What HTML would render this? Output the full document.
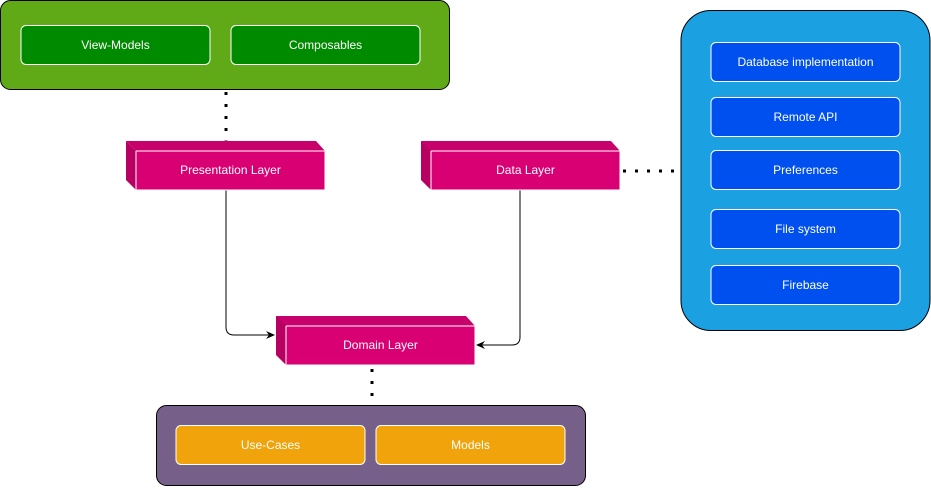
<!DOCTYPE html>
<html><head><style>
body{margin:0;width:931px;height:486px;background:#fff;font-family:"Liberation Sans",Arial,sans-serif;overflow:hidden}
</style></head><body>
<svg width="931" height="486" viewBox="0 0 931 486" xmlns="http://www.w3.org/2000/svg" font-family="Liberation Sans, Arial, sans-serif" font-size="12">
<defs><marker id="a" markerWidth="10" markerHeight="10" refX="8" refY="5" orient="auto" markerUnits="userSpaceOnUse"><path d="M0,1 L9,5 L0,9 L3,5 Z" fill="#000"/></marker></defs>
<!-- green -->
<rect x="0.5" y="0.5" width="449" height="89" rx="10" fill="#60a917" stroke="#000"/>
<rect x="21" y="25.5" width="189" height="39" rx="5" fill="#008a00" stroke="#fff"/>
<text x="115.5" y="49" fill="#fff" text-anchor="middle">View-Models</text>
<rect x="231" y="25.5" width="189" height="39" rx="5" fill="#008a00" stroke="#fff"/>
<text x="325.5" y="49" fill="#fff" text-anchor="middle">Composables</text>
<!-- blue -->
<rect x="681" y="10.5" width="249" height="320" rx="30" fill="#1ba1e2" stroke="#000"/>
<g fill="#0050ef" stroke="#fff">
<rect x="711" y="42.5" width="189" height="39" rx="5"/>
<rect x="711" y="97.5" width="189" height="39" rx="5"/>
<rect x="711" y="150.5" width="189" height="39" rx="5"/>
<rect x="711" y="209.5" width="189" height="39" rx="5"/>
<rect x="711" y="265.5" width="189" height="39" rx="5"/>
</g>
<g fill="#fff" text-anchor="middle">
<text x="805.5" y="66">Database implementation</text>
<text x="805.5" y="121">Remote API</text>
<text x="805.5" y="174">Preferences</text>
<text x="805.5" y="233">File system</text>
<text x="805.5" y="289">Firebase</text>
</g>
<!-- purple -->
<rect x="156.5" y="405.5" width="429" height="80" rx="10" fill="#76608a" stroke="#000"/>
<rect x="176" y="425.5" width="189" height="39" rx="5" fill="#f0a30a" stroke="#fff"/>
<text x="270.5" y="449" fill="#fff" text-anchor="middle">Use-Cases</text>
<rect x="376" y="425.5" width="189" height="39" rx="5" fill="#f0a30a" stroke="#fff"/>
<text x="470.5" y="449" fill="#fff" text-anchor="middle">Models</text>
<!-- dotted -->
<g stroke="#000" stroke-width="3" stroke-dasharray="3,9">
<line x1="226" y1="92" x2="226" y2="141"/>
<line x1="623" y1="171" x2="680" y2="171"/>
<line x1="372" y1="369" x2="372" y2="404"/>
</g>
<!-- arrows -->
<path d="M226,190 V327 Q226,335 234,335 H274" fill="none" stroke="#000" marker-end="url(#a)"/>
<path d="M520,190 V337 Q520,345 512,345 H477" fill="none" stroke="#000" marker-end="url(#a)"/>
<!-- cubes -->
<g stroke="#fff" stroke-width="1">
<g>
<path d="M126,141 H316 L325,151 V190 H136 L126,180 Z" fill="#d80073"/>
<path d="M126,141 L136,151 H325" fill="none"/>
<path d="M136,151 V190" fill="none"/>
<path d="M126,141 H316 L325,151 H136 Z" fill="#c8006b" stroke="none"/>
<path d="M126,141 L136,151 V190 L126,180 Z" fill="#b80063" stroke="none"/>
</g>
<g>
<path d="M421,141 H611 L620,151 V190 H431 L421,180 Z" fill="#d80073"/>
<path d="M421,141 H611 L620,151 H431 Z" fill="#c8006b" stroke="none"/>
<path d="M421,141 L431,151 V190 L421,180 Z" fill="#b80063" stroke="none"/>
</g>
<g>
<path d="M276,316 H466 L475,326 V365 H286 L276,355 Z" fill="#d80073"/>
<path d="M276,316 H466 L475,326 H286 Z" fill="#c8006b" stroke="none"/>
<path d="M276,316 L286,326 V365 L276,355 Z" fill="#b80063" stroke="none"/>
</g>
<path d="M136,151 H325 M136,151 V190 M431,151 H620 M431,151 V190 M286,326 H475 M286,326 V365" fill="none"/>
</g>
<g fill="#fff" text-anchor="middle">
<text x="230.5" y="174">Presentation Layer</text>
<text x="525.5" y="174">Data Layer</text>
<text x="380.5" y="349">Domain Layer</text>
</g>
</svg>
</body></html>
